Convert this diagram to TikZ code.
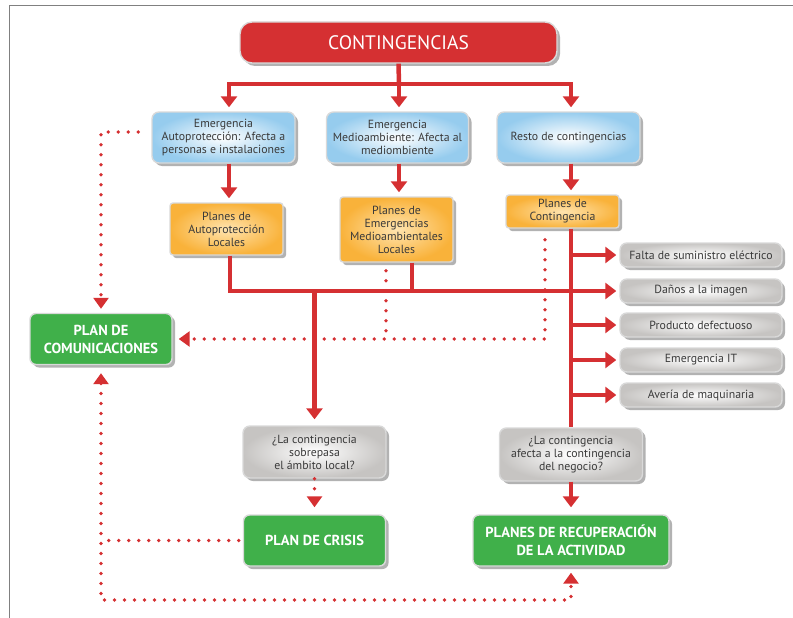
\documentclass[tikz,border=0pt]{standalone}
\usepackage{fontspec}
\setmainfont{PT Sans}
\usepackage{tikz}
\usetikzlibrary{arrows.meta,shadows}

\definecolor{contred}{RGB}{213,48,50}
\definecolor{emergblue}{RGB}{150,204,238}
\definecolor{planorange}{RGB}{249,178,58}
\definecolor{planlight}{RGB}{255,228,175}
\definecolor{casegrey}{RGB}{198,196,194}
\definecolor{plangreen}{RGB}{64,176,74}
\definecolor{textgrey}{RGB}{58,58,58}

\tikzset{
	box/.style={draw=black!15, line width=1.4pt, align=center, text=textgrey, inner sep=2pt,
		font=\fontsize{11.8}{13}\selectfont,
		drop shadow={shadow xshift=3pt, shadow yshift=-3pt, opacity=.3, fill=black}},
	contbox/.style={box, rounded corners=12pt, fill=contred, text=white, font=\fontsize{19.5}{21}\selectfont},
	emergbox/.style={box, rounded corners=7pt, inner color=white, outer color=emergblue},
	planbox/.style={box, rounded corners=3pt, inner color=planlight, outer color=planorange},
	casebox/.style={box, rounded corners=7pt, inner color=white, outer color=casegrey},
	greenbox/.style={box, rounded corners=6pt, fill=plangreen, text=white, font=\fontsize{14.5}{18}\selectfont\bfseries},
	redline/.style={draw=contred, line width=4.5pt},
	redarrow/.style={redline, -{Triangle[width=16pt,length=11pt]}},
	dotline/.style={draw=contred, line width=3.8pt, line cap=round, dash pattern=on 0pt off 10pt},
	dotarrow/.style={dotline, -{Triangle[width=15pt,length=11pt]}}
}

\begin{document}
\begin{tikzpicture}[x=1pt, y=-1pt]
		%%%%% START %%%%%
		\useasboundingbox (0, 0) rectangle (793, 618);
		\draw[black!50, line width=1pt] (9, 618) -- (9, 6) -- (793, 6);
		
		\node[contbox, minimum width=317pt, minimum height=41pt] (cont) at (398.5, 42.5) {CONTINGENCIAS};
		
		\node[emergbox, minimum width=143pt, minimum height=51pt] (emerg1) at (223.5, 137.5) {Emergencia\\Autoprotección: Afecta a\\personas e instalaciones};
		\node[emergbox, minimum width=142pt, minimum height=51pt] (emerg2) at (397.5, 137.5) {Emergencia\\Medioambiente: Afecta al\\mediombiente};
		\node[emergbox, minimum width=143pt, minimum height=51pt] (emerg3) at (568.5, 137.5) {Resto de contingencias};
		
		\node[planbox, minimum width=113pt, minimum height=52pt] (plan1) at (226.5, 229) {Planes de\\Autoprotección\\Locales};
		\node[planbox, minimum width=113pt, minimum height=65pt] (plan2) at (396.5, 229.5) {Planes de\\Emergencias\\Medioambientales\\Locales};
		\node[planbox, minimum width=113pt, minimum height=33pt] (plan3) at (562.5, 211.5) {Planes de\\Contingencia};
		
		\node[casebox, minimum width=162pt, minimum height=24pt] (falta) at (701, 255) {Falta de suministro eléctrico};
		\node[casebox, minimum width=162pt, minimum height=24pt] (danos) at (701, 291) {Daños a la imagen};
		\node[casebox, minimum width=162pt, minimum height=24pt] (producto) at (701, 325) {Producto defectuoso};
		\node[casebox, minimum width=162pt, minimum height=24pt] (emergit) at (701, 360) {Emergencia IT};
		\node[casebox, minimum width=162pt, minimum height=24pt] (averia) at (701, 395) {Avería de maquinaria};
		
		\node[casebox, minimum width=143pt, minimum height=52pt] (local) at (314.5, 452) {¿La contingencia\\sobrepasa\\el ámbito local?};
		\node[casebox, minimum width=143pt, minimum height=53pt] (negocio) at (571, 454.5) {¿La contingencia\\afecta a la contingencia\\del negocio?};
		
		\node[greenbox, minimum width=142pt, minimum height=51pt] (comun) at (101, 339) {PLAN DE\\COMUNICACIONES};
		\node[greenbox, minimum width=142pt, minimum height=51pt] (crisis) at (314.5, 540.5) {PLAN DE CRISIS};
		\node[greenbox, minimum width=196pt, minimum height=51pt] (recup) at (571, 540.5) {PLANES DE RECUPERACIÓN\\DE LA ACTIVIDAD};
		
		% top level
		\coordinate (split) at (399, 84);
		\draw[redline] (cont.south) -- (split);
		\draw[redarrow, shorten >=4pt] (split) -| ([xshift=5.5pt]emerg1.north);
		\draw[redarrow, shorten >=4pt] (split) -| ([xshift=2.5pt]emerg3.north);
		\draw[redarrow, shorten >=4pt] (split) -- ([xshift=1.5pt]emerg2.north);
		
		\draw[redarrow, shorten >=4pt] ([xshift=5.5pt]emerg1.south) -- ([xshift=2.5pt]plan1.north);
		\draw[redarrow, shorten >=4pt] ([xshift=1.5pt]emerg2.south) -- ([xshift=2.5pt]plan2.north);
		\draw[redarrow, shorten >=4pt] ([xshift=2.5pt]emerg3.south) -- ([xshift=8.5pt]plan3.north);
		
		% local plans
		\draw[redarrow, shorten >=3pt] ([xshift=3.5pt]plan1.south) |- (danos.west);
		\draw[redline] ([xshift=15.5pt]plan2.south) -- ([xshift=15.5pt]plan2.south |- danos.west);
		\draw[redarrow, shorten >=6pt] (local.north |- danos.west) -- (local.north);
		
		% contingency plans
		\draw[redline] ([xshift=8.5pt]plan3.south) -- (negocio.north);
		\draw[redarrow, shorten >=3pt] (negocio.north |- falta.west) -- (falta.west);
		\draw[redarrow, shorten >=3pt] (negocio.north |- producto.west) -- (producto.west);
		\draw[redarrow, shorten >=3pt] (negocio.north |- emergit.west) -- (emergit.west);
		\draw[redarrow, shorten >=3pt] (negocio.north |- averia.west) -- (averia.west);
		\draw[redarrow, shorten >=7pt] (negocio.south) -- (recup.north);
		
		% communication
		\draw[dotarrow, shorten <=13pt, shorten >=4pt] ([yshift=5.5pt]emerg1.west) -| (comun.north);
		\draw[dotarrow, shorten <=11pt, shorten >=6pt] ([xshift=-17.5pt]plan3.south) |- (comun.east);
		\draw[dotline, shorten <=8pt] ([xshift=-10.5pt]plan2.south) -- ([xshift=-10.5pt]plan2.south |- comun.east);
		
		\draw[dotarrow, shorten >=7pt] (local.south) -- (crisis.north);
		\coordinate (bottom) at (0, 600);
		\draw[dotline, shorten <=4pt] (crisis.west) -- (crisis.west -| comun.south);
		\draw[dotline, {Triangle[width=15pt,length=11pt]}-{Triangle[width=15pt,length=11pt]}, shorten <=8pt, shorten >=6pt] (comun.south) -- (comun.south |- bottom) -| (recup.south);
		
		%%%%% END %%%%%
	\end{tikzpicture}
\end{document}
